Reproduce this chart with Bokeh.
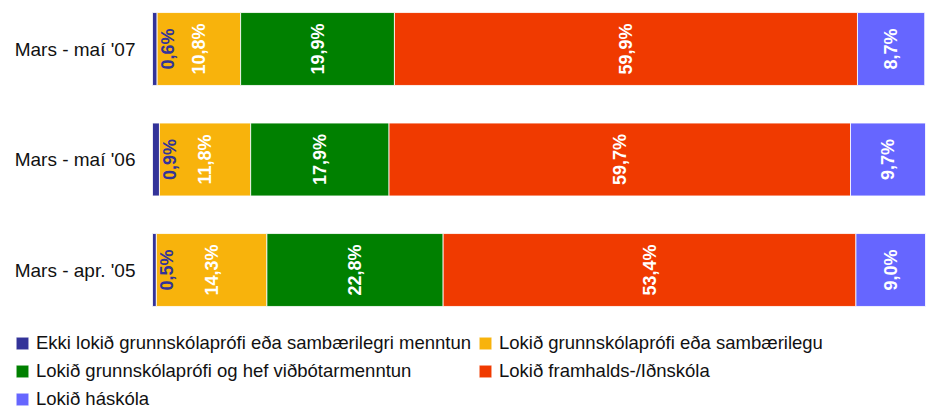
import numpy as np
from bokeh.plotting import figure
from bokeh.models import ColumnDataSource, Legend, LegendItem, Range1d
from bokeh.core.properties import value
from bokeh.embed import file_html
from bokeh.resources import INLINE

periods = ["Mars - maí '07", "Mars - maí '06", "Mars - apr. '05"]
series = [
    "Ekki lokið grunnskólaprófi eða sambærilegri menntun",
    "Lokið grunnskólaprófi eða sambærilegu",
    "Lokið grunnskólaprófi og hef viðbótarmenntun",
    "Lokið framhalds-/Iðnskóla",
    "Lokið háskóla",
]
ekki = [0.6, 0.9, 0.5]
grunn = [10.8, 11.8, 14.3]
vidbot = [19.9, 17.9, 22.8]
framh = [59.9, 59.7, 53.4]
hask = [8.7, 9.7, 9.0]
colors = ["#333399", "#F8B30C", "#008000", "#F03A00", "#6666FF"]

FONT = "Liberation Sans"
ypos = [2, 1, 0]
keys = ["s0", "s1", "s2", "s3", "s4"]
vals = [ekki, grunn, vidbot, framh, hask]

data = {"y": ypos, "period": periods, "x0": [0.0] * len(ypos)}
for k, v in zip(keys, vals):
    data[k] = v
src = ColumnDataSource(data)

# frame spans the whole figure; bars start 152px from the left edge
px_per_unit = 7.73
p = figure(width=926, height=410, output_backend="svg", toolbar_location=None,
           x_range=Range1d(-152 / px_per_unit, 100 + 1 / px_per_unit),
           y_range=Range1d(2 - 361.5 / 110.5, 2 + 48.5 / 110.5),
           min_border_left=0, min_border_right=0, min_border_top=0,
           min_border_bottom=0)
p.outline_line_color = None
p.grid.visible = False
p.axis.visible = False

rends = p.hbar_stack(keys, y="y", height=0.66, color=colors, source=src,
                     line_color="white", line_width=1, line_alpha=0.8)

# category labels (left of the bars)
p.text(x="x0", y="y", text="period", source=src, text_align="right",
       text_baseline="middle", text_color="#111111", text_font=value(FONT),
       text_font_size="19px", x_offset=-17)

# value labels
lx, ly, lt = [], [], []
sx, sy, st = [], [], []
for i in range(3):
    cum = 0.0
    for j, v in enumerate(vals):
        lab = f"{v[i]:.1f}".replace(".", ",") + "%"
        if j == 0:
            sx.append(cum + v[i]); sy.append(ypos[i]); st.append(lab)
        else:
            lx.append(cum + v[i] / 2); ly.append(ypos[i]); lt.append(lab)
        cum += v[i]

p.text(x=lx, y=ly, text=lt, angle=np.pi / 2, text_align="center",
       text_baseline="middle", text_color="white", text_font=value(FONT),
       text_font_style="bold", text_font_size="18px")
p.text(x=sx, y=sy, text=st, angle=np.pi / 2, text_align="center",
       text_baseline="middle", text_color="#333399", text_font=value(FONT),
       text_font_style="bold", text_font_size="18px", x_offset=11)

items = [LegendItem(label=s, renderers=[r]) for s, r in zip(series, rends)]
legend = Legend(items=items, orientation="horizontal", ncols=2,
                location=(14, 0), padding=0, margin=0, spacing=6,
                glyph_width=16, glyph_height=16, label_standoff=6,
                label_text_font=FONT, label_text_font_size="18.5px",
                label_text_color="#111111", label_height=20,
                border_line_alpha=0, background_fill_alpha=0)
p.add_layout(legend, "center")

open("out.html", "w").write(file_html(p, INLINE))
